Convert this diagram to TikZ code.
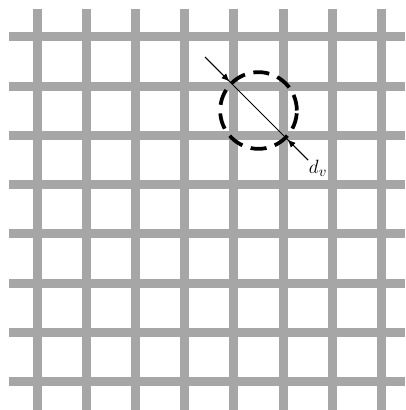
\documentclass[tikz,border=0pt]{standalone}
\usepackage{tikz}
\usepackage{xcolor}
\usepackage{amsmath}
\usetikzlibrary{arrows.meta, positioning, calc}
\definecolor{mesh}{RGB}{166,166,166}

\begin{document}
\begin{tikzpicture}[x=0.75pt, y=-0.75pt,
    wire/.style={draw=mesh, line width=6.75pt},
    void/.style={circle, draw, inner sep=0pt, minimum size=57.5pt, line width=2.8pt, dash pattern=on 12pt off 6.5pt},
    dimline/.style={line width=0.6pt},
    tip/.style={-{Latex[length=6pt, width=5pt]}, line width=0.6pt}]
    \useasboundingbox (0,0) rectangle (405,410);

    % Mesh wires
    \foreach \i in {0,...,7} {
        \draw[wire] ({37+49.2*\i}, 9) -- ({37+49.2*\i}, 410);
        \draw[wire] (9, {37+49.2*\i}) -- (405, {37+49.2*\i});
    }

    % Opening
    \node[void] (hole) at (258.5, 110.5) {};

    % Diameter
    \coordinate (start) at (205, 57);
    \coordinate (end) at (308, 160);
    \coordinate (tipA) at (229.5, 81.5);
    \coordinate (tipB) at (287.5, 139.5);
    \draw[dimline] (start) -- (end);
    \draw[tip] (start) -- (tipA);
    \draw[tip] (end) -- (tipB);
    \node[font=\fontsize{15}{18}\selectfont] (dv) at (318, 168) {$d_v$};
\end{tikzpicture}
\end{document}
